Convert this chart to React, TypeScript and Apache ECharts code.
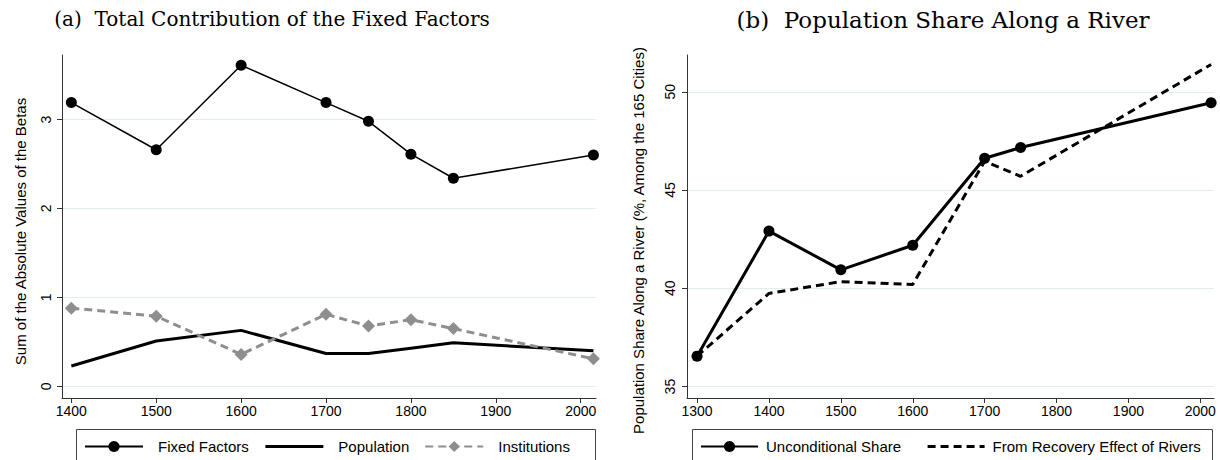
import React, { useEffect, useRef } from "react";
import * as echarts from "echarts";

// Panel (a): Total contribution of the fixed factors
const yearsA = [1400, 1500, 1600, 1700, 1750, 1800, 1850, 2015];
const fixedFactors = [3.19, 2.66, 3.61, 3.19, 2.98, 2.61, 2.34, 2.6];
const population = [0.23, 0.51, 0.63, 0.37, 0.37, 0.43, 0.49, 0.4];
const institutions = [0.88, 0.79, 0.36, 0.81, 0.68, 0.75, 0.65, 0.31];
const xTicksA = [1400, 1500, 1600, 1700, 1800, 1900, 2000];
const yTicksA = [0, 1, 2, 3];

// Panel (b): Population share along a river
const yearsB = [1300, 1400, 1500, 1600, 1700, 1750, 2015];
const unconditionalShare = [36.55, 42.91, 40.94, 42.19, 46.62, 47.16, 49.44];
const recoveryEffect = [36.55, 39.74, 40.34, 40.2, 46.46, 45.7, 51.39];
const xTicksB = [1300, 1400, 1500, 1600, 1700, 1800, 1900, 2000];
const yTicksB = [35, 40, 45, 50];

const SANS = "'Liberation Sans', Arial, Helvetica, sans-serif";
const SERIF = "'DejaVu Serif', serif";

const pairs = (xs: number[], ys: number[]) => xs.map((x, i) => [x, ys[i]]);

export default function App() {
  const ref = useRef<HTMLDivElement>(null);

  useEffect(() => {
    if (!ref.current) return;
    const chart = echarts.init(ref.current, null, { renderer: "svg" });

    const labelStyle = { fontFamily: SANS, fontSize: 14, color: "#000" };
    const axisLineStyle = { color: "#333", width: 1 };
    const gridLine = { show: true, lineStyle: { color: "#e3edf0", width: 1 } };
    const plain = (v: number) => String(v);

    const xAxisBase = (gridIndex: number, min: number, max: number, ticks: number[]) => ({
      gridIndex,
      type: "value",
      min,
      max,
      axisLine: { show: true, onZero: false, lineStyle: axisLineStyle },
      axisTick: { show: true, length: 5, customValues: ticks, lineStyle: axisLineStyle },
      axisLabel: { ...labelStyle, margin: 6, customValues: ticks, formatter: plain },
      splitLine: { show: false },
    });

    const yAxisBase = (
      gridIndex: number,
      min: number,
      max: number,
      ticks: number[],
      name: string,
      nameGap: number,
      margin: number,
      namePad: number[]
    ) => ({
      gridIndex,
      type: "value",
      min,
      max,
      name,
      nameLocation: "middle",
      nameGap,
      nameTextStyle: { fontFamily: SANS, fontSize: 15, color: "#000", padding: namePad },
      axisLine: { show: true, onZero: false, lineStyle: axisLineStyle },
      axisTick: { show: true, length: 5, customValues: ticks, lineStyle: axisLineStyle },
      axisLabel: { ...labelStyle, rotate: 90, margin, customValues: ticks, formatter: plain },
      splitLine: gridLine,
    });

    chart.setOption({
      animation: false,
      backgroundColor: "#fff",
      title: [
        {
          text: "(a)  Total Contribution of the Fixed Factors",
          left: 267,
          top: 4,
          textAlign: "center",
          textStyle: { fontFamily: SERIF, fontSize: 20, fontWeight: "normal", color: "#000" },
        },
        {
          text: "(b)  Population Share Along a River",
          left: 938,
          top: 3,
          textAlign: "center",
          textStyle: { fontFamily: SERIF, fontSize: 23, fontWeight: "normal", color: "#000" },
        },
      ],
      grid: [
        { left: 62, top: 55, width: 534, height: 343 },
        { left: 687, top: 55, width: 527, height: 343 },
      ],
      xAxis: [xAxisBase(0, 1389, 2018, xTicksA), xAxisBase(1, 1286, 2019, xTicksB)],
      yAxis: [
        yAxisBase(0, -0.13, 3.725, yTicksA, "Sum of the Absolute Values of the Betas", 34, 9, [0, 10, 0, 0]),
        yAxisBase(
          1,
          34.42,
          51.87,
          yTicksB,
          "Population Share Along a River (%, Among the 165 Cities)",
          41,
          10,
          [0, 28, 0, 0]
        ),
      ],
      legend: [
        {
          data: [
            "Fixed Factors",
            { name: "Population", itemStyle: { opacity: 0 }, lineStyle: { width: 3, color: "#000" } },
            "Institutions",
          ],
          left: 84,
          top: 439,
          padding: 0,
          itemWidth: 58,
          itemHeight: 14,
          itemGap: 15,
          textStyle: { fontFamily: SANS, fontSize: 15, color: "#000", padding: [0, 0, 0, 10] },
        },
        {
          data: [
            "Unconditional Share",
            {
              name: "From Recovery Effect of Rivers",
              itemStyle: { opacity: 0 },
              lineStyle: { width: 3, color: "#000", type: [8, 5] },
            },
          ],
          left: 700,
          top: 439,
          padding: 0,
          itemWidth: 57,
          itemHeight: 14,
          itemGap: 25,
          textStyle: { fontFamily: SANS, fontSize: 15, color: "#000", padding: [0, 0, 0, 3] },
        },
      ],
      graphic: [
        {
          type: "rect",
          shape: { x: 76.5, y: 429.5, width: 519, height: 40 },
          style: { fill: "none", stroke: "#444", lineWidth: 1 },
          silent: true,
        },
        {
          type: "rect",
          shape: { x: 692.5, y: 429.5, width: 520, height: 40 },
          style: { fill: "none", stroke: "#444", lineWidth: 1 },
          silent: true,
        },
      ],
      series: [
        {
          name: "Fixed Factors",
          type: "line",
          xAxisIndex: 0,
          yAxisIndex: 0,
          data: pairs(yearsA, fixedFactors),
          symbol: "circle",
          symbolSize: 11,
          lineStyle: { color: "#000", width: 1.5 },
          itemStyle: { color: "#000" },
        },
        {
          name: "Population",
          type: "line",
          xAxisIndex: 0,
          yAxisIndex: 0,
          data: pairs(yearsA, population),
          symbol: "none",
          lineStyle: { color: "#000", width: 3 },
          itemStyle: { color: "#000" },
        },
        {
          name: "Institutions",
          type: "line",
          xAxisIndex: 0,
          yAxisIndex: 0,
          data: pairs(yearsA, institutions),
          symbol: "diamond",
          symbolSize: 13,
          lineStyle: { color: "#8e8e8e", width: 3, type: [8, 5] },
          itemStyle: { color: "#8e8e8e" },
        },
        {
          name: "Unconditional Share",
          type: "line",
          xAxisIndex: 1,
          yAxisIndex: 1,
          data: pairs(yearsB, unconditionalShare),
          symbol: "circle",
          symbolSize: 11,
          lineStyle: { color: "#000", width: 3 },
          itemStyle: { color: "#000" },
        },
        {
          name: "From Recovery Effect of Rivers",
          type: "line",
          xAxisIndex: 1,
          yAxisIndex: 1,
          data: pairs(yearsB, recoveryEffect),
          symbol: "none",
          lineStyle: { color: "#000", width: 3, type: [8, 5] },
          itemStyle: { color: "#000" },
        },
      ],
    });

    return () => chart.dispose();
  }, []);

  return (
    <div
      ref={ref}
      style={{ position: "absolute", left: 0, top: 0, width: 1220, height: 460, background: "#fff" }}
    />
  );
}
